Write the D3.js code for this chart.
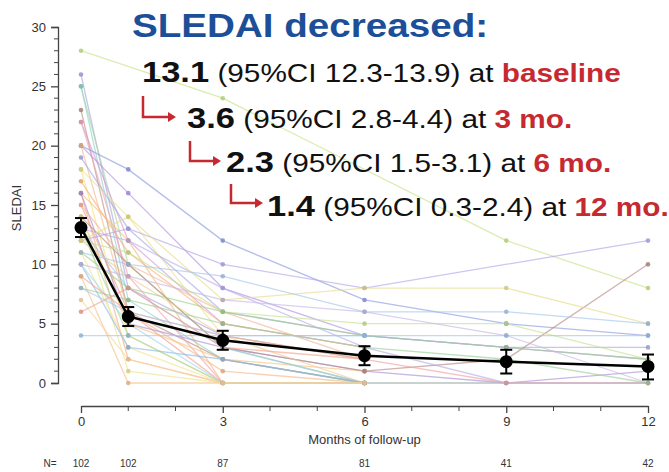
<!DOCTYPE html>
<html>
<head>
<meta charset="utf-8">
<script src="https://cdn.jsdelivr.net/npm/d3@7"></script>
<style>
  body { margin: 0; background: #fff; }
  svg { font-family: "Liberation Sans", Arial, sans-serif; }
</style>
</head>
<body>
<div id="chart"></div>
<script>
// months of follow-up and the group summary (mean and 95% CI)
var months = [0, 1, 3, 6, 9, 12];
var meanSledai = [13.1, 5.6, 3.6, 2.3, 1.8, 1.4];
var ciLow = [12.3, 4.8, 2.8, 1.5, 0.8, 0.3];
var ciHigh = [13.9, 6.4, 4.4, 3.1, 2.8, 2.4];
var nAtRisk = [102, 102, 87, 81, 41, 42];

var xTicks = [0, 3, 6, 9, 12];
var yTicks = [0, 5, 10, 15, 20, 25, 30];

// individual patients, value per month (null = no visit)
var patients = [
  [28, null, 24, null, 12, 8],
  [26, 8, 4, 2, null, null],
  [25, 10, 3, 0, null, null],
  [25, 7, 2, 0, null, null],
  [23, 6, 2, 0, null, null],
  [22, 12, 5, 3, null, null],
  [22, 9, 0, 0, null, null],
  [20, 18, 12, 7, 5, 4],
  [20, 16, 8, 4, 3, 2],
  [20, 6, 1, 0, null, null],
  [19, 13, 6, 4, 3, 3],
  [18, 4, 0, 0, null, null],
  [18, 14, 4, 2, null, null],
  [17, 11, 5, 3, null, null],
  [16, 2, 0, 0, null, null],
  [16, 12, 0, 0, 0, null],
  [16, 5, 3, 1, 0, 1],
  [15, 6, 0, 0, null, null],
  [15, 10, 6, 2, null, null],
  [14, 5, 2, 1, null, null],
  [14, 10, 3, 1, 2, 10],
  [14, 1, 0, 0, null, null],
  [13, 4, 0, 0, null, null],
  [13, 12, 8, 3, 0, 0],
  [13, 8, 3, 0, 0, 0],
  [12, 13, 10, 8, null, 12],
  [12, 11, 6, 5, 5, 2],
  [12, 9, 4, 0, null, null],
  [12, 14, 7, 8, 8, 5],
  [11, 8, 6, 4, 3, 2],
  [11, 3, 0, 0, null, null],
  [11, 10, 9, 6, 6, 5],
  [10, 3, 2, 0, null, null],
  [10, 5, 0, 0, null, null],
  [10, 9, 7, 6, 4, 0],
  [9, 6, 4, 2, 0, 0],
  [9, 0, 0, 0, null, null],
  [8, 7, 5, 3, 2, 0],
  [8, 6, 4, 4, null, null],
  [7, 2, 0, 0, null, null],
  [6, 8, 3, 2, null, null],
  [4, 4, 4, 4, 4, 4]
];

var lineColors = ["#c5e384", "#a9a3e6", "#a6d99a", "#8fd3c7", "#b58f86", "#d99ad9",
  "#f4a6b6", "#8c9be0", "#b195e3", "#f6b98a", "#a8a8e8", "#f3e27a", "#e9e28f",
  "#f7b27c", "#f9a98c", "#f5b979", "#ab8fd6", "#f59e8e", "#f5b6a0", "#f7c37f",
  "#b98a86", "#ede58a", "#9fd69d", "#b5aee8", "#9ac9e6", "#b3a6e9", "#c5e08e",
  "#f2c98d", "#e8dc8a", "#9fd08f", "#f1e390", "#a3c6e8", "#8fbbe6", "#a8d7ef",
  "#c7b7e6", "#f0a3a0", "#f5c28a", "#9ccf98", "#b1c9e8", "#f8d6a0", "#f2a48f", "#9bc7ee"];

var margin = { top: 27, left: 58 },
  width = 669, height = 472;

var svg = d3.select("#chart")
  .append("svg")
  .attr("width", width)
  .attr("height", height);

// scales
var x = d3.scaleLinear().domain([0, 12]).range([81, 648]);
var y = d3.scaleLinear().domain([0, 30]).range([383, 27]);

// spaghetti lines for each patient
var line = d3.line()
  .x(function (d) { return x(d.m); })
  .y(function (d) { return y(d.v); });

var pts = patients.map(function (p) {
  return p.map(function (v, i) { return { m: months[i], v: v }; })
    .filter(function (d) { return d.v != null; });
});

svg.append("g").selectAll("path")
  .data(pts)
  .enter()
  .append("path")
  .attr("d", line)
  .attr("fill", "none")
  .attr("stroke", function (d, i) { return lineColors[i % lineColors.length]; })
  .attr("stroke-width", 1.3)
  .attr("opacity", 0.65);

pts.forEach(function (p, i) {
  svg.append("g").selectAll("circle")
    .data(p)
    .enter()
    .append("circle")
    .attr("cx", function (d) { return x(d.m); })
    .attr("cy", function (d) { return y(d.v); })
    .attr("r", 2.3)
    .style("opacity", 0.85)
    .style("fill", d3.color(lineColors[i % lineColors.length]).darker(0.3));
});

// y axis (offset Prism style)
var yAxis = svg.append("g")
  .attr("transform", "translate(" + margin.left + ",0)")
  .call(d3.axisLeft(y).tickValues(yTicks).tickSize(7).tickPadding(5));
yAxis.selectAll(".tick text").style("font-size", "13px").style("fill", "#333");
yAxis.select(".domain").attr("stroke", "#444").attr("stroke-width", 1.3);
yAxis.selectAll(".tick line").attr("stroke", "#444").attr("stroke-width", 1.3);
yAxis.append("g").selectAll("line")
  .data(d3.range(0, 31).filter(function (v) { return v % 5 != 0; }))
  .enter()
  .append("line")
  .attr("x1", -4).attr("x2", 0)
  .attr("y1", function (d) { return y(d); })
  .attr("y2", function (d) { return y(d); })
  .attr("stroke", "#444");

// x axis
var xAxis = svg.append("g")
  .attr("transform", "translate(0,406)")
  .call(d3.axisBottom(x).tickValues(xTicks).tickSize(7).tickSizeOuter(0).tickPadding(4));
xAxis.selectAll(".tick text").style("font-size", "13px").style("fill", "#333");
xAxis.select(".domain").attr("stroke", "#444").attr("stroke-width", 1.3);
xAxis.selectAll(".tick line").attr("stroke", "#444").attr("stroke-width", 1.3);
xAxis.append("g").selectAll("line")
  .data(d3.range(0, 13).filter(function (v) { return v % 3 != 0; }))
  .enter()
  .append("line")
  .attr("x1", function (d) { return x(d); })
  .attr("x2", function (d) { return x(d); })
  .attr("y1", 0).attr("y2", 5)
  .attr("stroke", "#444");

// axis titles
svg.append("text")
  .attr("transform", "translate(21,208) rotate(-90)")
  .attr("text-anchor", "middle")
  .style("font-size", "13px")
  .style("fill", "#333")
  .text("SLEDAI");

svg.append("text")
  .attr("x", x(6))
  .attr("y", 444)
  .attr("text-anchor", "middle")
  .style("font-size", "13px")
  .style("fill", "#333")
  .text("Months of follow-up");

// N row
svg.append("text")
  .attr("x", 50).attr("y", 467)
  .attr("text-anchor", "middle")
  .style("font-size", "10px").style("fill", "#333")
  .text("N=");
svg.append("g").selectAll("text")
  .data(nAtRisk)
  .enter()
  .append("text")
  .attr("x", function (d, i) { return x(months[i]); })
  .attr("y", 467)
  .attr("text-anchor", "middle")
  .style("font-size", "10px").style("fill", "#333")
  .text(function (d) { return d; });

// mean line with 95% CI
var mean = months.map(function (m, i) {
  return { m: m, v: meanSledai[i], lo: ciLow[i], hi: ciHigh[i] };
});

svg.append("path")
  .datum(mean)
  .attr("d", line)
  .attr("fill", "none")
  .attr("stroke", "#000")
  .attr("stroke-width", 2.5);

var eb = svg.append("g").selectAll("g")
  .data(mean)
  .enter()
  .append("g")
  .attr("stroke", "#000")
  .attr("stroke-width", 2);
eb.append("line")
  .attr("x1", function (d) { return x(d.m); }).attr("x2", function (d) { return x(d.m); })
  .attr("y1", function (d) { return y(d.lo); }).attr("y2", function (d) { return y(d.hi); });
eb.append("line")
  .attr("x1", function (d) { return x(d.m) - 6; }).attr("x2", function (d) { return x(d.m) + 6; })
  .attr("y1", function (d) { return y(d.lo); }).attr("y2", function (d) { return y(d.lo); });
eb.append("line")
  .attr("x1", function (d) { return x(d.m) - 6; }).attr("x2", function (d) { return x(d.m) + 6; })
  .attr("y1", function (d) { return y(d.hi); }).attr("y2", function (d) { return y(d.hi); });
eb.append("circle")
  .attr("cx", function (d) { return x(d.m); })
  .attr("cy", function (d) { return y(d.v); })
  .attr("r", 5.5)
  .attr("fill", "#000");

// annotation text (the slide is a bit stretched sideways)
var red = "#c62a30";
var sx = 1.19;

svg.append("text")
  .attr("transform", "translate(132,37) scale(1.17,1)")
  .style("font-size", "33px")
  .style("font-weight", "bold")
  .style("fill", "#1d4f98")
  .text("SLEDAI decreased:");

var notes = [
  { x: 142, y: 82, v: "13.1", ci: " (95%CI 12.3-13.9) at ", when: "baseline" },
  { x: 187, y: 128, v: "3.6", ci: " (95%CI 2.8-4.4) at ", when: "3 mo." },
  { x: 226, y: 172, v: "2.3", ci: " (95%CI 1.5-3.1) at ", when: "6 mo." },
  { x: 267, y: 216, v: "1.4", ci: " (95%CI 0.3-2.4) at ", when: "12 mo." }
];

notes.forEach(function (n) {
  var t = svg.append("text")
    .attr("transform", "translate(" + n.x + "," + n.y + ") scale(" + sx + ",1)")
    .style("font-size", "25px")
    .style("fill", "#111");
  t.append("tspan").style("font-weight", "bold").style("font-size", "29px").text(n.v);
  t.append("tspan").text(n.ci);
  t.append("tspan").style("font-weight", "bold").style("fill", red).text(n.when);
});

// red elbow arrows
var arrows = [
  { x0: 143, y0: 96, y1: 117, x1: 176 },
  { x0: 190, y0: 141, y1: 161, x1: 221 },
  { x0: 231, y0: 184, y1: 203, x1: 263 }
];

arrows.forEach(function (a) {
  svg.append("path")
    .attr("d", "M" + a.x0 + "," + a.y0 + "V" + a.y1 + "H" + (a.x1 - 7))
    .attr("fill", "none")
    .attr("stroke", red)
    .attr("stroke-width", 2.5);
  svg.append("path")
    .attr("d", "M" + (a.x1 - 8) + "," + (a.y1 - 5) + "L" + a.x1 + "," + a.y1 + "L" + (a.x1 - 8) + "," + (a.y1 + 5) + "Z")
    .attr("fill", red);
});
</script>
</body>
</html>
